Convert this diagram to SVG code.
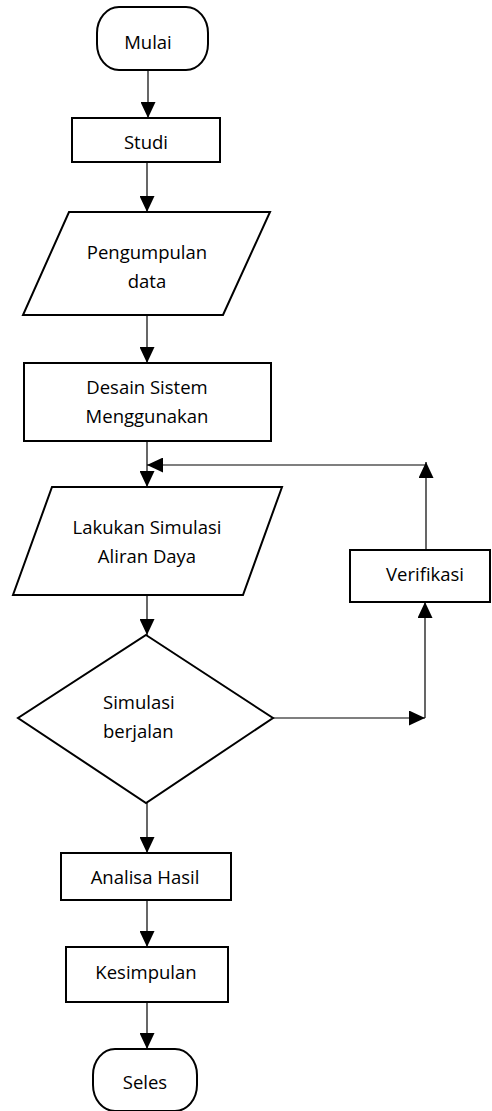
<svg xmlns="http://www.w3.org/2000/svg" width="492" height="1111" viewBox="0 0 492 1111">
<style>
.shape{fill:#fff;stroke:#000;stroke-width:2}
.conn{fill:none;stroke:#000;stroke-width:1.2}
text{font-family:"Open Sans","Noto Sans",sans-serif;font-size:18.5px;fill:#000}
.c{text-anchor:middle}
</style>
<defs>
<marker id="arr" markerUnits="userSpaceOnUse" markerWidth="16" markerHeight="15" refX="16" refY="7.5" orient="auto">
<path d="M0,0 L16,7.5 L0,15 z" fill="#000"/>
</marker>
</defs>
<rect width="492" height="1111" fill="#fff"/>
<g id="connectors">
<path class="conn" d="M148,70 V118" marker-end="url(#arr)"/>
<path class="conn" d="M147,162 V212" marker-end="url(#arr)"/>
<path class="conn" d="M147,315 V363" marker-end="url(#arr)"/>
<path class="conn" d="M147,441 V487" marker-end="url(#arr)"/>
<path class="conn" d="M426,550 V462" marker-end="url(#arr)"/>
<path class="conn" d="M426,465 H147" marker-end="url(#arr)"/>
<path class="conn" d="M147,595 V635" marker-end="url(#arr)"/>
<path class="conn" d="M273,718 H425" marker-end="url(#arr)"/>
<path class="conn" d="M425,718 V602" marker-end="url(#arr)"/>
<path class="conn" d="M147,803 V853" marker-end="url(#arr)"/>
<path class="conn" d="M147,900 V947" marker-end="url(#arr)"/>
<path class="conn" d="M147,1002 V1049" marker-end="url(#arr)"/>
</g>
<g id="mulai">
<rect class="shape" x="97" y="7" width="111" height="63" rx="22" ry="26"/>
<text class="c" x="148" y="49">Mulai</text>
</g>
<g id="studi">
<rect class="shape" x="72" y="118" width="148" height="44"/>
<text class="c" x="146" y="149">Studi</text>
</g>
<g id="pengumpulan">
<polygon class="shape" points="69,212 270,212 223,315 23,315"/>
<text class="c" x="147" y="259">Pengumpulan</text>
<text class="c" x="147" y="288">data</text>
</g>
<g id="desain">
<rect class="shape" x="24" y="363" width="247" height="78"/>
<text class="c" x="147" y="394">Desain Sistem</text>
<text class="c" x="147" y="423">Menggunakan</text>
</g>
<g id="lakukan">
<polygon class="shape" points="52,487 282,487 243,595 13,595"/>
<text class="c" x="147" y="534">Lakukan Simulasi</text>
<text class="c" x="147" y="563">Aliran Daya</text>
</g>
<g id="verifikasi">
<rect class="shape" x="350" y="550" width="140" height="52"/>
<text class="c" x="425" y="581">Verifikasi</text>
</g>
<g id="simulasi">
<polygon class="shape" points="146,635 273,718 146,803 18,718"/>
<text x="103" y="709">Simulasi</text>
<text x="103" y="738">berjalan</text>
</g>
<g id="analisa">
<rect class="shape" x="61" y="853" width="170" height="47"/>
<text class="c" x="145" y="884">Analisa Hasil</text>
</g>
<g id="kesimpulan">
<rect class="shape" x="66" y="947" width="162" height="55"/>
<text class="c" x="146" y="979">Kesimpulan</text>
</g>
<g id="seles">
<rect class="shape" x="93" y="1049" width="104" height="62" rx="22" ry="26"/>
<text class="c" x="145" y="1089">Seles</text>
</g>
</svg>
